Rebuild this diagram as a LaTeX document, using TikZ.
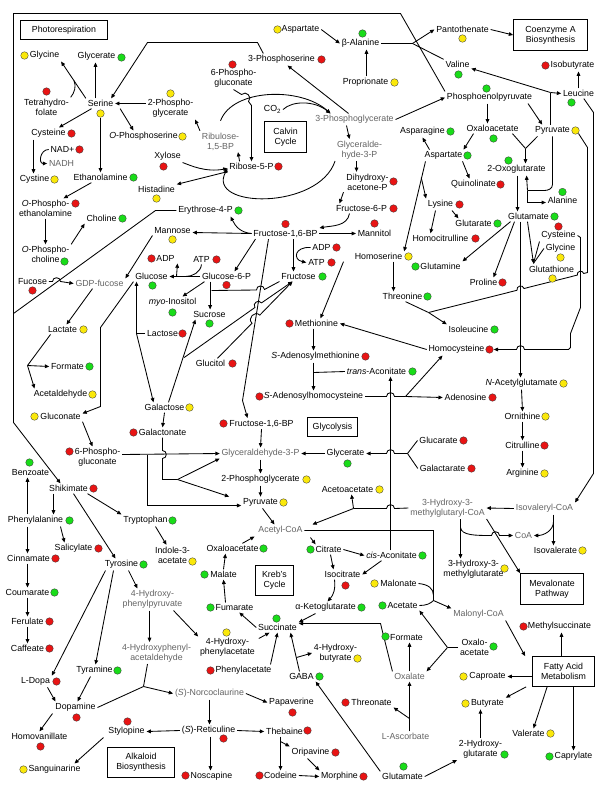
\documentclass[tikz,border=0pt]{standalone}
\usepackage{fontspec}
\setmainfont{Liberation Sans}
\usetikzlibrary{arrows.meta}
\definecolor{dR}{RGB}{232,20,20}
\definecolor{dG}{RGB}{25,220,25}
\definecolor{dY}{RGB}{250,232,10}
\definecolor{gtxt}{RGB}{100,100,100}
\newcommand{\dotlist}{}
\newcommand{\met}[7]{\node[lab] (#1) at (#2,#3) {#4};\node[dotghost] (d-#1) at (#6,#7) {};\xdef\dotlist{\unexpanded\expandafter{\dotlist}\noexpand\node[dot,fill=#5] at (#6,#7) {};}}
\newcommand{\gmet}[4]{\node[glab] (#1) at (#2,#3) {#4};}
\begin{document}
\begin{tikzpicture}[x=1pt,y=-1pt,line width=0.85pt,
  font=\fontsize{8.8}{10}\selectfont,
  lab/.style={inner sep=1.5pt,align=center},
  glab/.style={lab,font=\fontsize{8.8}{10}\selectfont\color{gtxt}},
  dot/.style={circle,draw=black!75,line width=0.35pt,minimum size=7.6pt,inner sep=0pt},
  dotghost/.style={circle,minimum size=7.6pt,inner sep=0pt},
  bx/.style={draw=black,line width=0.75pt,align=center,inner sep=0pt},
  arr/.style={draw=black,-{Triangle[length=4.3pt,width=3.7pt]}},
  ln/.style={draw=black},
  hopl/.style={bend left=90,looseness=1.6},
  hopr/.style={bend right=90,looseness=1.6}]
\fill[white] (-0.5,-0.5) rectangle (599.5,799.5);
\useasboundingbox (-0.5,-0.5) rectangle (599.5,799.5);
% ---------------- nodes ----------------
\node[bx,minimum width=87pt,minimum height=19pt] (photo) at (63.5,29.5) {Photorespiration};
\met{gly1}{44}{55}{Glycine}{dY}{24}{55}
\met{glyca}{96}{56}{Glycerate}{dG}{121}{57}
\met{thf}{46}{107}{Tetrahydro-\\folate}{dR}{46}{91}
\met{ser}{100}{103}{Serine}{dY}{100}{113}
\met{pgA}{170}{108}{2-Phospho-\\glycerate}{dY}{170}{93}
\met{cysA}{48}{133}{Cysteine}{dR}{71}{133}
\met{ophs}{143}{136}{\textit{O}-Phosphoserine}{dY}{182}{136}
\met{nad}{62}{149}{NAD+}{dR}{79}{149}
\gmet{nadh}{61}{163}{NADH}
\met{cysn}{34}{179}{Cystine}{dY}{54}{179}
\met{etn}{100}{177}{Ethanolamine}{dG}{133}{177}
\met{xyl}{167}{156}{Xylose}{dR}{163}{166}
\met{his}{156}{189}{Histadine}{dY}{156}{198}
\met{opetn}{45}{208}{\textit{O}-Phospho-\\ethanolamine}{dR}{75}{203}
\met{chol}{101}{218}{Choline}{dG}{122}{218}
\met{opcho}{45}{254}{\textit{O}-Phospho-\\choline}{dG}{64}{261}
\met{eFp}{205}{210}{Erythrose-4-P}{dG}{238}{210}
\met{mann}{172}{230}{Mannose}{dY}{172}{239}
\met{fuc}{32}{281}{Fucose}{dR}{32}{290}
\gmet{gdpf}{99}{283}{GDP-fucose}
\met{adpA}{165}{258}{ADP}{dR}{151}{258}
\met{atpA}{201}{259}{ATP}{dR}{216}{259}
\met{glc}{151}{276}{Glucose}{dG}{152}{285}
\met{gsp}{226}{276}{Glucose-6-P}{dR}{226}{284.5}
\met{myo}{172}{302}{\textit{myo}-Inositol}{dG}{172}{312}
\met{suc}{209}{314}{Sucrose}{dG}{209}{323}
\met{lacto}{162}{333}{Lactose}{dR}{182}{333}
\met{glcl}{210}{363}{Glucitol}{dR}{232}{363}
\met{lac}{62}{329}{Lactate}{dY}{83}{329}
\met{formA}{67}{366}{Formate}{dG}{89}{366}
\met{acald}{60}{394}{Acetaldehyde}{dY}{92}{394}
\met{aspA}{300}{29}{Aspartate}{dY}{277}{29}
\met{bala}{360}{43}{β-Alanine}{dG}{362}{33}
\met{pser}{281}{59}{3-Phosphoserine}{dR}{321}{59}
\met{pgnA}{233}{78}{6-Phospho-\\gluconate}{dR}{232}{64}
\met{prop}{365}{82}{Proprionate}{dY}{394}{82}
\node[lab] (co2) at (272,109) {CO\textsubscript{2}};
\gmet{pga}{354}{119}{3-Phosphoglycerate}
\node[bx,minimum width=42pt,minimum height=31pt] (calvin) at (285,136.5) {Calvin\\Cycle};
\gmet{rubp}{220}{141}{Ribulose-\\1,5-BP}
\met{rfp}{251}{166}{Ribose-5-P}{dR}{278}{166}
\gmet{gapA}{359}{149.5}{Glyceralde-\\hyde-3-P}
\met{dhap}{367}{181.5}{Dihydroxy-\\acetone-P}{dR}{393}{181}
\met{fsp}{361}{208}{Fructose-6-P}{dR}{393}{208}
\met{fbpA}{285}{233}{Fructose-1,6-BP}{dR}{285}{223.5}
\met{mtol}{374}{233}{Mannitol}{dR}{374}{223}
\met{adpB}{321}{247}{ADP}{dR}{336}{247}
\met{atpB}{316}{262}{ATP}{dR}{331}{262}
\met{fru}{298}{276}{Fructose}{dG}{322}{276}
\met{hser}{378}{256}{Homoserine}{dY}{408}{256}
\met{thr}{402}{296}{Threonine}{dG}{427}{296}
\met{met}{316}{323}{Methionine}{dR}{289}{323}
\met{sam}{315}{356}{\textit{S}-Adenosylmethionine}{dR}{365}{356}
\met{tacon}{376}{371}{\textit{trans}-Aconitate}{dG}{412}{371}
\met{sah}{313}{396}{\textit{S}-Adenosylhomocysteine}{dR}{259}{396}
\met{pant}{462}{29}{Pantothenate}{dY}{462}{38}
\node[bx,minimum width=74pt,minimum height=31pt] (coab) at (550,34.5) {Coenzyme A\\Biosynthesis};
\met{val}{457}{64}{Valine}{dG}{458}{74}
\met{ibut}{572}{65}{Isobutyrate}{dR}{545}{65}
\met{leu}{578}{93}{Leucine}{dG}{571}{102}
\met{pep}{489}{97}{Phosphoenolpyruvate}{dG}{486}{88}
\met{oaaA}{492}{128}{Oxaloacetate}{dG}{493}{138}
\met{pyrA}{552}{130}{Pyruvate}{dY}{575}{130}
\met{asn}{422}{131}{Asparagine}{dG}{450}{131}
\met{aspB}{443}{155}{Aspartate}{dG}{467}{155}
\met{oxg}{516}{169}{2-Oxoglutarate}{dG}{508}{160}
\met{quin}{473}{184}{Quinolinate}{dR}{500}{184}
\met{ala}{562}{200}{Alanine}{dG}{562}{191.5}
\met{lys}{440}{204}{Lysine}{dR}{459}{204}
\met{gluA}{528}{216}{Glutamate}{dG}{554}{216}
\met{glutar}{473}{223}{Glutarate}{dG}{497}{223}
\met{hcit}{440}{238}{Homocitrulline}{dR}{475}{238}
\met{cysB}{558}{235}{Cysteine}{dR}{558}{226}
\met{glyB}{560}{248}{Glycine}{dY}{560}{257}
\met{gln}{440}{266}{Glutamine}{dG}{415}{266}
\met{gsh}{551}{269}{Glutathione}{dY}{552}{278}
\met{pro}{483}{282}{Proline}{dR}{502}{282}
\met{ile}{468}{329}{Isoleucine}{dG}{494}{329}
\met{hcys}{456}{349}{Homocysteine}{dR}{489}{349}
\met{nag}{521}{383}{\textit{N}-Acetylglutamate}{dY}{563}{383}
\met{ado}{465}{397}{Adenosine}{dR}{492}{397}
\met{orn}{522}{416}{Ornithine}{dY}{545}{416}
\met{citl}{522}{445}{Citrulline}{dR}{544}{445}
\met{arg}{522}{473}{Arginine}{dY}{544}{473}
\met{glucar}{438}{440}{Glucarate}{dR}{463}{440}
\met{galar}{442}{468}{Galactarate}{dR}{471}{468}
\gmet{hmgcoa}{447}{507.5}{3-Hydroxy-3-\\methylglutaryl-CoA}
\gmet{ivcoa}{544}{508}{Isovaleryl-CoA}
\gmet{coa}{523}{535}{CoA}
\met{ival}{555}{550}{Isovalerate}{dY}{582}{550}
\met{hmg}{473}{569}{3-Hydroxy-3-\\methylglutarate}{dY}{504}{568}
\node[bx,minimum width=63pt,minimum height=31pt] (mev) at (551.5,588.5) {Mevalonate\\Pathway};
\met{gluc}{60}{416}{Gluconate}{dY}{34}{416}
\met{galac}{164}{407}{Galactose}{dY}{189}{407}
\met{galn}{162}{432}{Galactonate}{dR}{133}{432}
\met{pgnB}{97}{457}{6-Phospho-\\gluconate}{dR}{69}{451}
\met{benz}{30}{472}{Benzoate}{dG}{29}{462}
\met{shik}{68}{488}{Shikimate}{dR}{93}{488}
\met{phe}{35}{520}{Phenylalanine}{dG}{69}{520}
\met{trp}{145}{520}{Tryptophan}{dG}{172}{520}
\met{sal}{73}{548}{Salicylate}{dR}{98}{548}
\met{cinn}{28}{558}{Cinnamate}{dR}{55}{558}
\met{iaa}{172}{554.5}{Indole-3-\\acetate}{dY}{192}{561}
\met{tyr}{121}{564}{Tyrosine}{dG}{143}{564}
\met{coum}{27}{592}{Coumarate}{dG}{54}{592}
\gmet{hpp}{152}{599}{4-Hydroxy-\\phenylpyruvate}
\met{fer}{27}{621}{Ferulate}{dR}{49}{621}
\met{caf}{27}{648}{Caffeate}{dR}{49}{648}
\gmet{hpaa}{156}{652.5}{4-Hydroxyphenyl-\\acetaldehyde}
\met{tyra}{94}{670}{Tyramine}{dG}{117}{670}
\met{dopa}{35}{681}{L-Dopa}{dR}{56}{681}
\met{dopm}{75}{707}{Dopamine}{dR}{76}{717}
\met{hva}{39}{736}{Homovanillate}{dR}{40}{746}
\met{styl}{126}{731}{Stylopine}{dR}{127}{721}
\met{sang}{54}{769}{Sanguinarine}{dY}{23}{769}
\node[bx,minimum width=67pt,minimum height=30pt] (alk) at (140.5,762) {Alkaloid\\Biosynthesis};
\met{fbpB}{261}{423}{Fructose-1,6-BP}{dR}{223}{423}
\node[bx,minimum width=50pt,minimum height=19pt] (glyco) at (332,426.5) {Glycolysis};
\gmet{gapB}{260}{453}{Glyceraldehyde-3-P}
\met{glycb}{345}{453}{Glycerate}{dG}{347}{463}
\met{pgB}{260}{479}{2-Phosphoglycerate}{dY}{306}{479}
\met{acac}{347}{489}{Acetoacetate}{dY}{379}{489}
\met{pyrB}{260}{502}{Pyruvate}{dY}{283}{502}
\gmet{accoa}{280}{530}{Acetyl-CoA}
\met{oaaB}{232}{548}{Oxaloacetate}{dG}{263}{548}
\met{citr}{328}{549}{Citrate}{dG}{310}{549}
\met{cacon}{391}{555}{\textit{cis}-Aconitate}{dG}{422}{555}
\met{mal}{223}{574}{Malate}{dG}{204}{574}
\node[bx,minimum width=38pt,minimum height=30pt] (kreb) at (274,580) {Kreb's\\Cycle};
\met{icit}{342}{574}{Isocitrate}{dR}{345}{585}
\met{malon}{398}{583}{Malonate}{dY}{374}{583}
\met{fum}{234}{607}{Fumarate}{dG}{210}{607}
\met{akg}{325}{607}{α-Ketoglutarate}{dG}{361}{607}
\met{acet}{402}{605}{Acetate}{dG}{382}{605}
\gmet{malcoa}{478}{614}{Malonyl-CoA}
\met{succ}{277}{627}{Succinate}{dG}{276}{618}
\met{mesuc}{559}{626}{Methylsuccinate}{dR}{523}{626}
\met{hpa}{227}{647}{4-Hydroxy-\\phenylacetate}{dY}{226}{632}
\met{hbut}{335}{652.5}{4-Hydroxy-\\butyrate}{dY}{357}{658}
\met{formB}{406}{637}{Formate}{dG}{385}{636}
\met{oaaC}{474}{647}{Oxalo-\\acetate}{dG}{493}{646}
\node[bx,minimum width=62pt,minimum height=30pt] (fam) at (563,671) {Fatty Acid\\Metabolism};
\met{phac}{243}{670}{Phenylacetate}{dR}{210}{670}
\met{gaba}{301}{676}{GABA}{dG}{319}{676}
\gmet{oxal}{409}{676}{Oxalate}
\met{capro}{487}{676}{Caproate}{dY}{463}{676}
\gmet{ncc}{209}{693}{(\textit{S})-Norcoclaurine}
\met{papa}{291}{702}{Papaverine}{dR}{292}{712}
\met{thro}{371}{702}{Threonate}{dR}{345}{702}
\met{buty}{487}{703}{Butyrate}{dY}{465}{703}
\met{ret}{208}{730}{(\textit{S})-Reticuline}{dR}{223}{738}
\met{theb}{284}{731}{Thebaine}{dR}{307}{730}
\met{valr}{528}{733}{Valerate}{dY}{550}{733}
\gmet{asc}{405}{736}{L-Ascorbate}
\met{hglu}{480}{748.5}{2-Hydroxy-\\glutarate}{dG}{504}{754}
\met{orip}{310}{752}{Oripavine}{dR}{335}{752}
\met{capry}{573}{756}{Caprylate}{dG}{549}{756}
\met{gluB}{402}{776}{Glutamate}{dG}{403}{766}
\met{nosc}{211}{776}{Noscapine}{dR}{185}{775}
\met{cod}{280}{775}{Codeine}{dR}{259}{775}
\met{morph}{339}{776}{Morphine}{dR}{363}{776}
% ---------------- connectors ----------------
% photorespiration
\draw[arr] (ser.north west) -- (gly1.south east);
\coordinate (jTHF) at (73.5,80);
\draw[ln] (thf.north east) .. controls (74,92) and (76,86) .. (jTHF);
\draw[arr] ([xshift=-5pt]ser.north) -- ([xshift=-5pt]ser.north |- glyca.south);
\draw[arr] (pgA.west |- ser.east) -- (ser.east);
\draw[arr] (ser) -- (cysA);
\draw[arr] ([xshift=5pt]ser.south east) -- ([xshift=-10pt]ophs.north);
\draw[arr] (d-ser) -- (etn);
\draw[arr] ([xshift=17pt]pser.north west) -- (257,42) -- (147,42) -- ([xshift=-4pt]ser.north east);
\draw[arr] ([xshift=-15pt]cysA.south) -- ([xshift=-15pt]cysA.south |- cysn.north);
\draw[arr] (nad.west) to[out=180,in=180,looseness=1.6] (nadh.west);
\draw[arr] (etn) -- (opetn);
\draw[arr] (opetn.south) -- (opcho.north);
\draw[arr] (opcho.north east) -- (chol.south west);
% calvin cycle
\draw[arr] ([yshift=10pt]rubp.north) .. controls (232,88) and (300,86) .. ([xshift=-24pt]pga.north);
\draw[arr] (co2.east) .. controls (292,100) and (314,100) .. ([xshift=-24pt]pga.north);
\draw[arr] (rubp.north west) -- (pgA.south east);
\draw[arr] ([xshift=12pt]rfp.north west) -- ([xshift=-3pt]rubp.south east);
\draw[arr] (pgnA.south) -- (241,94) to[hopl] (248,101) -- (251,105) -- (rfp.north);
\draw[arr] ([xshift=-6pt]pga.north) -- ([xshift=6pt]pser.south);
\draw[arr] ([xshift=-8pt]pga.south) -- ([xshift=-10pt]gapA.north);
\draw[arr] (pga.east) -- (pep.west);
\draw[arr] ([xshift=-3pt]gapA.south) -- ([xshift=-11pt]dhap.north);
\draw[arr] ([xshift=-24pt]dhap.south) -- ([xshift=-22pt]fsp.north);
\draw[arr] (gapA.south west) .. controls (318,210) and (205,208) .. ([yshift=-2pt]rfp.west);
\draw[arr] (xyl.south east) .. controls (190,165) and (205,172) .. ([yshift=-2pt]rfp.west);
\draw[arr] (rfp.south west) -- (his.north east);
% sugars
\draw[arr] (fbpA.west) .. controls (240,232) and (235,226) .. ([xshift=-4pt]eFp.south east);
\draw[arr] (fbpA.west) -- ([yshift=-2pt]mann.east);
\draw[arr] ([xshift=-12pt]fsp.south) to[out=-100,in=10] (fbpA.north east);
\draw[arr] (fbpA.east) -- (mtol.west);
\draw[arr] ([xshift=8pt]fbpA.south) -- ([xshift=8pt]fbpA.south |- fru.north);
\draw[arr] (adpB.west) .. controls (294,246) and (292,259) .. (atpB.west);
\draw[arr] ([xshift=-30pt]fbpA.south) -- ([xshift=8pt]gsp.north);
\draw[arr] (gsp.west) -- (glc.east);
\coordinate (jAD) at (176,276);
\coordinate (jAT) at (185,276);
\draw[arr] (jAD) -- ([xshift=1pt]adpA.south east);
\draw[ln] (atpA.south) .. controls (200,272) and (192,276) .. (jAT);
\draw[arr] ([xshift=-22pt]gsp.south) -- ([xshift=10pt]myo.north);
\draw[arr] ([xshift=10pt]gsp.south west) -- ([xshift=10pt]gsp.south west |- suc.north);
\draw[ln] (fru.south west) -- (264,289) to[hopr] (256,289.5) -- (211,290);
\draw[arr] ([xshift=7pt]glcl.north) -- (251.5,322.7) to[hopl] (259.3,314.6) -- ([xshift=-6pt]fru.south);
\draw[arr] ([xshift=4pt]galac.north) -- ([xshift=4pt]suc.south west);
\coordinate (jGF) at (183.7,357);
\draw[arr] (jGF) -- (254.4,307) to[hopl] (261,302.4) -- ([xshift=-6pt]fru.south);
\coordinate (jL) at (136,333);
\draw[ln] (lacto.west) -- (jL);
\draw[arr] (jL) -- (jL |- glc.south);
\draw[arr] (jL) -- ([xshift=-11pt]galac.north);
\draw[arr] (mann.south west) -- (gdpf.north east);
\draw[arr] (fuc.east) -- (52,281) to[hopl] (60,281) -- (gdpf.west);
\draw[arr] ([xshift=-7pt]gdpf.south) -- ([xshift=4pt]lac.north);
\draw[ln] ([xshift=-12pt]lac.south) -- (27,365) coordinate (jF);
\draw[arr] (jF) -- (formA.west);
\draw[arr] (jF) -- ([xshift=-26pt]acald.north);
\draw[arr] (glc.south west) -- (100,327) -- (100,406) -- ([yshift=3pt]gluc.east);
\draw[arr] (gluc.south east) -- ([xshift=-5pt]pgnB.north);
\draw[arr] (galac.south) -- (galn.north);
\draw[arr] ([yshift=3pt]pgnB.east) -- (gapB.west);
\coordinate (jP6) at (147,454);
\draw[arr] (jP6) -- (147,505) -- ([yshift=-3pt]pyrB.west);
\draw[ln] (galn.south) -- (162,450) to[hopl] (162,458) -- (162,479) -- (177,479) coordinate (jGn);
\draw[arr] (jGn) -- ([yshift=-5pt]gapB.west);
\draw[arr] (jGn) -- ([xshift=-12pt]pyrB.north west);
% PEP / erythrose to shikimate
\draw[arr] (pep.north west) -- (400,13) -- (13,13) -- (13,422) -- ([xshift=-8pt]shik.north);
\draw[ln] (eFp.west) -- (155,210) -- (13,313);
% glycolysis
\draw[arr] ([xshift=-17pt]fbpA.south) -- (242,400) -- ([xshift=-14pt]fbpB.north);
\draw[arr] (fbpB.south) -- (gapB.north);
\draw[arr] (glycb.west) -- (gapB.east);
\draw[arr] (gapB.south) -- (pgB.north);
\draw[arr] (pgB.south) -- (pyrB.north);
\draw[arr] ([xshift=2pt]pyrB.south) -- ([xshift=-6pt]accoa.north);
% Krebs
\draw[arr] ([xshift=-18pt]oaaB.north east) -- ([xshift=-2pt]accoa.south west);
\draw[arr] ([xshift=6pt,yshift=-1pt]accoa.south east) -- ([xshift=2pt]citr.north west);
\draw[arr] (citr.east) -- (cacon.west);
\draw[arr] ([xshift=2pt]citr.south) -- ([xshift=-9pt]icit.north);
\draw[arr] ([xshift=-10pt]cacon.south) -- (icit.east);
\draw[arr] ([xshift=-8pt]icit.south) to[bend left=25] ([xshift=2pt]akg.north);
\draw[arr] ([xshift=-10pt]akg.south) -- (succ.north east);
\draw[arr] (succ.west) -- ([xshift=-16pt]fum.south east);
\draw[arr] ([xshift=-9pt]fum.north) -- (mal.south);
\draw[arr] (mal.north) -- ([xshift=-7pt]oaaB.south);
\draw[arr] ([xshift=2pt,yshift=-2pt]hpa.north east) -- ([xshift=-8pt]succ.south);
\draw[arr] ([xshift=27pt]phac.north) -- (succ.south);
\coordinate (jGB) at (296,657);
\draw[arr] ([xshift=-2pt]gaba.north) -- ([xshift=13pt]succ.south);
\draw[arr] (jGB) -- (hbut.west);
\draw[arr] (gluB.north west) -- (gaba.south east);
\draw[arr] (oxal.north west) -- (380,623) -- ([yshift=4pt]succ.east);
\coordinate (jO) at (447,647);
\draw[ln] (oaaC.west) -- (jO);
\draw[arr] (jO) -- (acet.south east);
\draw[arr] (jO) -- (oxal.north east);
\draw[arr] (oxal.north) -- ([xshift=3pt]formB.south);
\draw[arr] ([xshift=4pt]asc.north) -- ([xshift=4pt]asc.north |- oxal.south);
\coordinate (jT) at (409,718);
\draw[arr] (jT) -- ([yshift=-5pt]thro.east);
\draw[arr] (gluB.east) -- (hglu.south west);
\draw[arr] (hglu.north) -- (hglu.north |- buty.south);
% fatty acids
\draw[arr] ([yshift=-5pt]fam.west) -- (capro.east);
\draw[arr] ([xshift=-6pt]fam.south west) -- (buty.north east);
\draw[arr] ([xshift=15pt]fam.south west) -- ([xshift=5pt]valr.north);
\draw[arr] ([xshift=10pt]fam.south) -- ([xshift=10pt]fam.south |- capry.north);
\draw[arr] ([xshift=-2pt]fam.north) -- ([xshift=-2pt]fam.north |- mesuc.south);
\draw[arr] (malcoa.south east) -- ([xshift=-7pt]fam.north west);
\draw[arr] (accoa.east) -- (433,530) -- (433,600) -- (malcoa.north west);
\coordinate (jM1) at (433,595);
\coordinate (jM2) at (433,600);
\draw[ln] (malon.east) .. controls (428,584) and (433,588) .. (jM1);
\draw[ln] (acet.east) .. controls (426,605) and (430,603) .. (jM2);
% HMG-CoA
\draw[ln] (hmgcoa.west) -- (394,508) to[hopr] (386,508) -- (353,508) coordinate (jH);
\draw[arr] (jH) -- ([xshift=8pt]accoa.north east);
\draw[arr] (jH) -- ([xshift=4pt]acac.south);
\draw[arr] (ivcoa.west) -- (hmgcoa.east);
\draw[arr] ([xshift=13pt]hmgcoa.south) -- ([xshift=13pt]hmgcoa.south |- hmg.north);
\coordinate (jHC) at (460,527);
\draw[arr] (jHC) .. controls (461,535) and (475,535) .. (491,535) to[hopl] (499,535) -- (coa.west);
\draw[arr] (hmgcoa.south east) -- (mev.north west);
\draw[arr] ([xshift=9pt]ivcoa.south) -- ([xshift=9pt]ivcoa.south |- ival.north);
\coordinate (jIV) at (553,521);
\draw[arr] (jIV) to[out=-90,in=0] (coa.east);
\draw[arr] ([xshift=-12pt]leu.south east) -- (593,112) -- (593,473) -- (ivcoa.north east);
% top right
\draw[arr] (aspA.east) -- (bala.west);
\draw[arr] ([xshift=1pt]prop.north) -- ([xshift=6pt]bala.south);
\coordinate (jPa) at (412,43);
\draw[ln] (bala.east) -- (jPa);
\draw[ln] (val.north west) -- (jPa);
\draw[arr] (jPa) -- (pant.west);
\draw[arr] (pant.east) -- (coab.west);
\coordinate (jV) at (550,92);
\draw[ln] ([xshift=-2pt]pyrA.north) -- (jV);
\draw[arr] (jV) -- ([yshift=-4pt]val.east);
\draw[arr] (jV) -- (leu.west);
\draw[arr] (leu.north) -- ([xshift=6pt]ibut.south);
\draw[arr] ([xshift=-2pt]pep.south) -- ([xshift=-2pt]pep.south |- oaaA.north);
\draw[arr] ([xshift=-6pt]pep.south east) -- ([xshift=9pt]pyrA.north west);
\draw[arr] ([xshift=-19pt]oaaA.south) -- ([xshift=20pt]aspB.north);
\draw[arr] ([xshift=-14pt]aspB.north) -- (asn.south);
\draw[arr] ([xshift=19pt]aspB.south) -- ([xshift=-4pt]quin.north);
\coordinate (jQ) at (525,148);
\draw[ln] ([xshift=20pt]oaaA.south) -- (jQ);
\draw[ln] ([xshift=-15pt]pyrA.south) -- (jQ);
\draw[arr] (jQ) -- ([xshift=9pt]oxg.north);
\draw[arr] ([xshift=1pt]oxg.south) -- ([xshift=1pt]oxg.south |- gluA.north);
\draw[ln] (pyrA.south) -- (552,184) to[out=-90,in=0] (544,190) -- (527,190) coordinate (jAl);
\draw[arr] (jAl) -- ([xshift=10pt]oxg.south);
\draw[arr] (jAl) -- (527,202) -- ([yshift=-2pt]ala.west);
\draw[arr] ([xshift=-18pt]aspB.south) -- (hser.north east);
\coordinate (jK) at (420.7,177);
\draw[arr] (jK) -- (lys.north west);
\draw[arr] ([xshift=-3pt]lys.south east) -- ([xshift=5pt]glutar.north west);
\draw[arr] ([xshift=-5pt]lys.south) -- ([xshift=-10pt]hcit.north);
\draw[arr] ([xshift=-18pt]gluA.south) -- (gln.north east);
\draw[arr] ([xshift=-14pt]gluA.south) -- ([xshift=10pt]pro.north);
\coordinate (jS) at ([xshift=-18pt,yshift=1pt]gsh.north);
\draw[arr] ([xshift=-1pt]gluA.south) -- (jS);
\draw[ln] (cysB.south west) -- (jS);
\draw[ln] (glyB.west) -- (jS);
\draw[arr] ([xshift=-8pt]gluA.south) -- ([xshift=-8pt]gluA.south |- nag.north);
\draw[arr] (nag.south) -- (orn.north);
\draw[arr] (orn.south) -- (citl.north);
\draw[arr] (citl.south) -- (arg.north);
\coordinate (jGc) at (407,453);
\draw[ln] (glucar.west) -- (jGc);
\draw[ln] (galar.west) -- (jGc);
\draw[arr] (jGc) -- (394,453) to[hopr] (386,453) -- (glycb.east);
\draw[arr] ([xshift=-1pt]cacon.north) -- ([xshift=-1pt]cacon.north |- tacon.south);
\draw[arr] ([xshift=-2pt]sam.south) -- ([xshift=-2pt]sam.south |- sah.north);
\coordinate (jTa) at (313,372);
\draw[ln] (tacon.west) -- (jTa);
\draw[arr] ([xshift=-3pt]met.south) -- ([xshift=-3pt]met.south |- sam.north);
\draw[arr] (hcys.west) -- (met.east);
\draw[arr] ([xshift=-35pt]hser.south) -- ([xshift=4pt]met.north);
\draw[arr] ([xshift=15pt]hser.south) -- ([xshift=15pt]hser.south |- thr.north);
\coordinate (jI) at (428,312);
\draw[ln] ([xshift=3pt]thr.south) -- (jI);
\draw[arr] (jI) -- (ile.north west);
\draw[ln] (d-pyrA.south east) -- (587,147) -- (587,272) -- (583.2,273) to[hopr] (576.8,274.6) -- (523.5,288) to[hopr] (516.5,289.8) -- (jI);
\draw[arr] (cysB.east) -- (580,237) -- (580,307) -- (570,333) -- (570,347) -- (568,349) -- (524,349) to[hopr] (516,349) -- (d-hcys.east);
\draw[ln] (sah.east) -- (386,396) to[hopl] (394,396) -- (405,396) coordinate (jD);
\draw[arr] (jD) -- (ado.west);
\draw[arr] (jD) -- ([xshift=-14pt]hcys.south);
% aromatics
\draw[arr] ([xshift=-15pt]shik.south) -- ([xshift=-15pt]shik.south |- phe.north);
\draw[arr] ([xshift=19pt]shik.south) -- (trp.north west);
\draw[arr] ([xshift=5pt]shik.south) -- ([xshift=-6pt]tyr.north);
\draw[arr] ([xshift=-8pt]phe.north) -- ([xshift=-8pt]phe.north |- benz.south);
\draw[arr] ([xshift=25pt]phe.south) -- ([xshift=-9pt]sal.north);
\draw[arr] ([xshift=-8pt]phe.south) -- ([xshift=-8pt]phe.south |- cinn.north);
\draw[arr] ([xshift=-1pt]cinn.south) -- ([xshift=-1pt]cinn.south |- coum.north);
\draw[arr] (coum.south) -- (fer.north);
\draw[arr] (fer.south) -- (caf.north);
\draw[arr] ([xshift=10pt]trp.south) -- ([xshift=-6pt]iaa.north);
\draw[arr] ([xshift=-16pt]tyr.south) -- (dopa.north east);
\draw[arr] ([xshift=-8pt]tyr.south) -- ([xshift=1pt]tyra.north);
\draw[arr] ([xshift=7pt]tyr.south) -- ([xshift=-15pt]hpp.north);
\draw[arr] ([xshift=-3pt]hpp.south) -- ([xshift=-3pt]hpp.south |- hpaa.north);
\draw[arr] ([xshift=21pt]hpp.south) -- (hpa.north west);
\draw[arr] ([xshift=12pt]dopa.south) -- ([xshift=-20pt]dopm.north);
\draw[arr] ([xshift=-4pt]tyra.south) -- ([xshift=2pt]dopm.north);
\draw[arr] ([xshift=-23pt]dopm.south) -- (hva.north);
\coordinate (jN) at (143,686);
\draw[ln] (dopm.east) -- (jN);
\draw[ln] ([xshift=-9pt]hpaa.south) -- (jN);
\draw[arr] (jN) -- (ncc.west);
\draw[arr] (ncc.east) -- (papa.west);
\draw[arr] (ncc.south) -- (ncc.south |- ret.north);
\draw[arr] (ret.east) -- (theb.west);
\draw[arr] (ret.west) -- (styl.east);
\draw[arr] ([xshift=2pt]ret.south) -- ([xshift=2pt]ret.south |- nosc.north);
\draw[arr] ([xshift=-4pt]theb.south) -- ([xshift=-4pt]theb.south |- cod.north);
\coordinate (jOr) at (280,741);
\draw[arr] (jOr) -- (orip.north west);
\draw[arr] ([xshift=-3pt]orip.south) -- ([xshift=-20pt]morph.north);
\draw[arr] (cod.east) -- (morph.west);
\draw[arr] ([xshift=-23pt]styl.south) -- ([xshift=20pt]sang.north);
% ---------------- dots on top ----------------
\dotlist
\end{tikzpicture}
\end{document}
